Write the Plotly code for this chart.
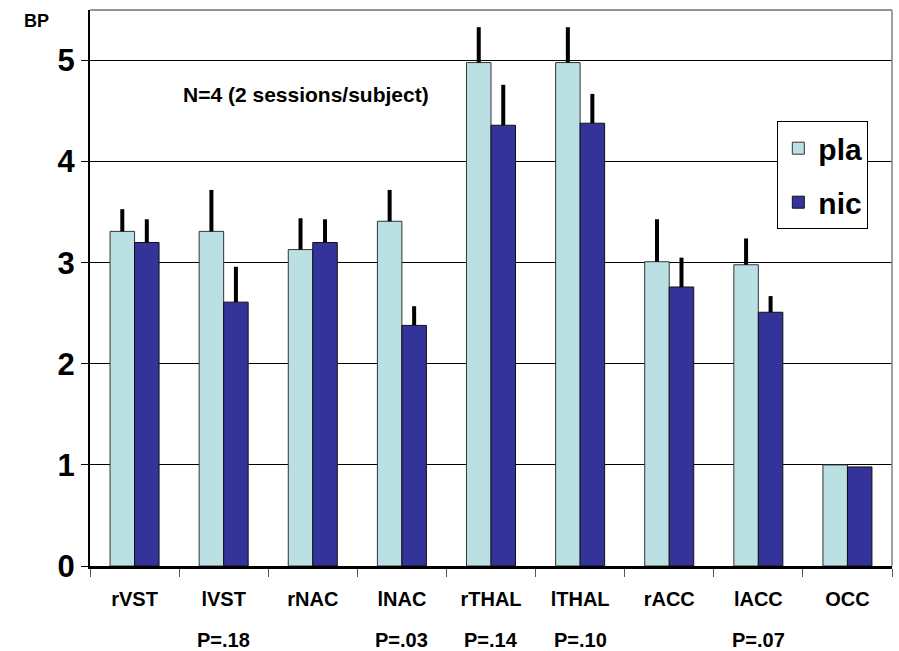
import plotly.graph_objects as go

regions = ["rVST", "lVST", "rNAC", "lNAC", "rTHAL", "lTHAL", "rACC", "lACC", "OCC"]
p_labels = ["", "P=.18", "", "P=.03", "P=.14", "P=.10", "", "P=.07", ""]
pla_values = [3.31, 3.31, 3.13, 3.41, 4.98, 4.98, 3.01, 2.98, 1.00]
pla_errors = [0.22, 0.41, 0.31, 0.31, 0.35, 0.35, 0.42, 0.26, 0.0]
nic_values = [3.20, 2.61, 3.20, 2.38, 4.36, 4.38, 2.76, 2.51, 0.98]
nic_errors = [0.23, 0.35, 0.23, 0.19, 0.40, 0.29, 0.29, 0.16, 0.0]
y_ticks = [0, 1, 2, 3, 4, 5]

FONT = "Liberation Sans, Arial, sans-serif"

fig = go.Figure()
fig.add_trace(go.Bar(
    name="pla", x=regions, y=pla_values, legendgroup="a",
    marker=dict(color="#BBE0E3", line=dict(color="#333333", width=1)),
    error_y=dict(type="data", symmetric=False, array=pla_errors,
                 arrayminus=[0] * len(pla_errors), color="black",
                 thickness=4, width=0),
))
fig.add_trace(go.Bar(
    name="nic", x=regions, y=nic_values, legendgroup="b",
    marker=dict(color="#333399", line=dict(color="#111111", width=1)),
    error_y=dict(type="data", symmetric=False, array=nic_errors,
                 arrayminus=[0] * len(nic_errors), color="black",
                 thickness=4, width=0),
))

fig.update_layout(
    width=899, height=651,
    margin=dict(l=90, r=7, t=10, b=85),
    paper_bgcolor="white", plot_bgcolor="white",
    barmode="group", bargap=0.45, bargroupgap=0,
    showlegend=True,
    legend=dict(x=0.857, y=0.80, xanchor="left", yanchor="top",
                bgcolor="white", bordercolor="black", borderwidth=1,
                font=dict(family=FONT, size=30, color="black", weight="bold"),
                traceorder="grouped", tracegroupgap=12,
                itemwidth=30),
    font=dict(family=FONT, color="black"),
)

fig.update_xaxes(
    type="category", showline=True, linecolor="black", linewidth=3,
    ticks="outside", tickson="boundaries", ticklen=8, tickcolor="#555555",
    tickwidth=1, showgrid=False,
    tickfont=dict(family=FONT, size=20, color="black", weight="bold"),
    ticklabelstandoff=13,
)
fig.update_yaxes(
    range=[0, 5.5], tickvals=y_ticks, showline=True, linecolor="black",
    linewidth=2, ticks="outside", ticklen=7, tickcolor="black", tickwidth=1,
    showgrid=True, gridcolor="black", gridwidth=1, zeroline=False,
    tickfont=dict(family=FONT, size=31, color="black", weight="bold"),
)

# plot frame (top and right)
fig.add_shape(type="line", xref="paper", yref="paper", x0=0, x1=1, y0=1, y1=1,
              line=dict(color="#707070", width=1.5))
fig.add_shape(type="line", xref="paper", yref="paper", x0=1, x1=1, y0=0, y1=1,
              line=dict(color="#808080", width=1.5))

for r, p in zip(regions, p_labels):
    if p:
        fig.add_annotation(x=r, y=0, xref="x", yref="paper", yshift=-74,
                           text=f"<b>{p}</b>", showarrow=False,
                           xanchor="center", yanchor="middle",
                           font=dict(family=FONT, size=20, color="black"))

fig.add_annotation(x=-0.067, y=0.981, xref="paper", yref="paper",
                   text="<b>BP</b>", showarrow=False,
                   xanchor="center", yanchor="middle",
                   font=dict(family=FONT, size=18, color="black"))
fig.add_annotation(x=0.269, y=0.848, xref="paper", yref="paper",
                   text="<b>N=4 (2 sessions/subject)</b>", showarrow=False,
                   xanchor="center", yanchor="middle",
                   font=dict(family=FONT, size=21, color="black"))

fig.write_html("out.html")
